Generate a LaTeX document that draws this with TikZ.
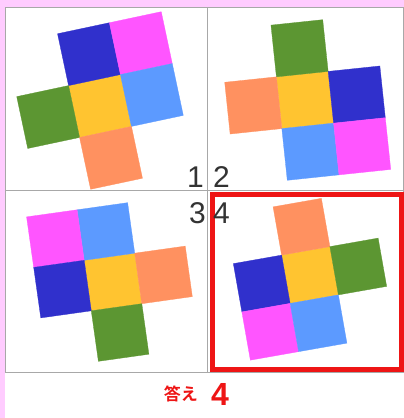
\documentclass[tikz,border=0pt]{standalone}
\usepackage{fontspec}
\setmainfont{Liberation Sans}
\newfontfamily\jpfont{Noto Sans CJK JP}[BoldFont={* Bold}]
\definecolor{bgpink}{HTML}{FFCCFF}
\definecolor{gridgray}{HTML}{A8A8A8}
\definecolor{cblue}{HTML}{3030CC}
\definecolor{cmag}{HTML}{FF55FF}
\definecolor{clight}{HTML}{5C9AFF}
\definecolor{cyel}{HTML}{FFC430}
\definecolor{cgreen}{HTML}{5C9632}
\definecolor{corange}{HTML}{FF9160}
\definecolor{ansred}{HTML}{EE1515}
\definecolor{numgray}{HTML}{333333}
\newcommand\netcell[3]{\fill[#3,draw=#3,line width=0.3pt] (#1-0.5,#2-0.5) rectangle (#1+0.5,#2+0.5);}
\begin{document}
\begin{tikzpicture}[x=1pt,y=-1pt,
  num/.style={font=\fontsize{30}{30}\selectfont,text=numgray,inner sep=0pt},
  gridline/.style={draw=gridgray,line width=1pt}]
\useasboundingbox (0,0) rectangle (404,418);
\fill[white] (0,0) rectangle (404,418);
\fill[bgpink] (0,0) rectangle (5,418);
\fill[bgpink] (0,0) rectangle (404,7);
% grid
\draw[gridline] (5.5,7.5) rectangle (403.5,372);
\draw[gridline] (207,7.5) -- (207,372);
\draw[gridline] (5.5,190) -- (403.5,190);
% panel 1
\begin{scope}[shift={(100,106)},rotate=12,x=53pt,y=-53pt]
\netcell{0}{0}{cyel}
\netcell{0}{-1}{cblue}
\netcell{1}{-1}{cmag}
\netcell{1}{0}{clight}
\netcell{-1}{0}{cgreen}
\netcell{0}{1}{corange}
\end{scope}
% panel 2
\begin{scope}[shift={(305,100)},rotate=6,x=52pt,y=-52pt]
\netcell{0}{0}{cyel}
\netcell{0}{-1}{cgreen}
\netcell{-1}{0}{corange}
\netcell{1}{0}{cblue}
\netcell{0}{1}{clight}
\netcell{1}{1}{cmag}
\end{scope}
% panel 3
\begin{scope}[shift={(113,282)},rotate=8,x=51pt,y=-51pt]
\netcell{0}{0}{cyel}
\netcell{0}{-1}{clight}
\netcell{-1}{-1}{cmag}
\netcell{-1}{0}{cblue}
\netcell{1}{0}{corange}
\netcell{0}{1}{cgreen}
\end{scope}
% panel 4
\begin{scope}[shift={(310,275)},rotate=10,x=49pt,y=-49pt]
\netcell{0}{0}{cyel}
\netcell{0}{-1}{corange}
\netcell{1}{0}{cgreen}
\netcell{-1}{0}{cblue}
\netcell{-1}{1}{cmag}
\netcell{0}{1}{clight}
\end{scope}
% answer box
\draw[ansred,line width=5pt] (212,194) rectangle (401,369);
% numbers
\node[num,anchor=base east] (n1) at (204,187) {1};
\node[num,anchor=base west] (n2) at (213,187) {2};
\node[num,anchor=base east] (n3) at (206,223) {3};
\node[num,anchor=base west] (n4) at (213,223) {4};
% answer text
\node[anchor=base east,inner sep=0pt,text=ansred,font=\jpfont\bfseries\fontsize{17}{17}\selectfont] (ans) at (198,400) {答え};
\node[anchor=base west,inner sep=0pt,text=ansred,font=\bfseries\fontsize{32}{32}\selectfont] (ansnum) at (211,405) {4};
\end{tikzpicture}
\end{document}
